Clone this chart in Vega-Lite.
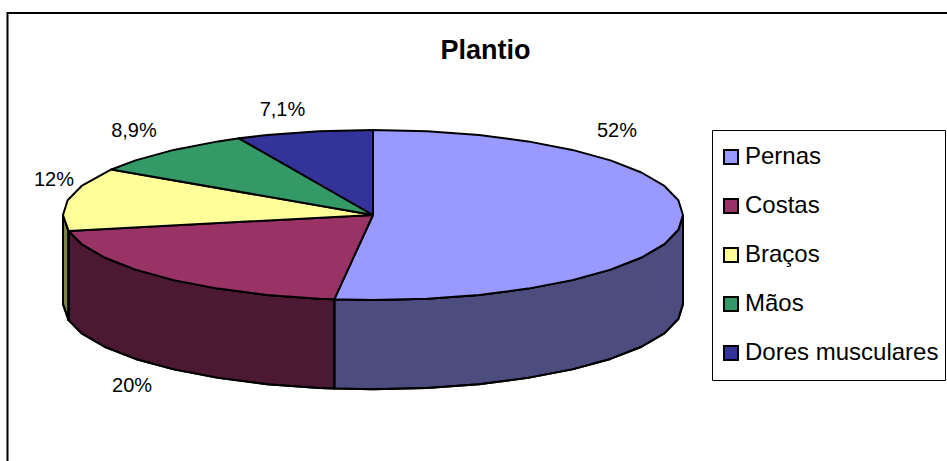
{
"$schema":"https://vega.github.io/schema/vega-lite/v6.json",
"width":947,"height":461,"autosize":{"type":"none"},"padding":0,"background":"white",
"config":{"view":{"stroke":null},"font":"Liberation Sans"},
"title":{"text":"Plantio","font":"Liberation Sans","fontSize":27,"fontWeight":"bold","color":"black","anchor":"middle","frame":"group","offset":-65,"dx":12},
"datasets":{
"topo":[
{"categoria":"Pernas","ordem":0,"x":0,"y":0},{"categoria":"Pernas","ordem":1,"x":0,"y":1},{"categoria":"Pernas","ordem":2,"x":0.174,"y":0.985},{"categoria":"Pernas","ordem":3,"x":0.342,"y":0.94},{"categoria":"Pernas","ordem":4,"x":0.5,"y":0.866},{"categoria":"Pernas","ordem":5,"x":0.643,"y":0.766},{"categoria":"Pernas","ordem":6,"x":0.766,"y":0.643},{"categoria":"Pernas","ordem":7,"x":0.866,"y":0.5},{"categoria":"Pernas","ordem":8,"x":0.94,"y":0.342},{"categoria":"Pernas","ordem":9,"x":0.985,"y":0.174},{"categoria":"Pernas","ordem":10,"x":1,"y":0},{"categoria":"Pernas","ordem":11,"x":0.985,"y":-0.174},{"categoria":"Pernas","ordem":12,"x":0.94,"y":-0.342},{"categoria":"Pernas","ordem":13,"x":0.866,"y":-0.5},{"categoria":"Pernas","ordem":14,"x":0.766,"y":-0.643},{"categoria":"Pernas","ordem":15,"x":0.643,"y":-0.766},{"categoria":"Pernas","ordem":16,"x":0.5,"y":-0.866},{"categoria":"Pernas","ordem":17,"x":0.342,"y":-0.94},{"categoria":"Pernas","ordem":18,"x":0.174,"y":-0.985},{"categoria":"Pernas","ordem":19,"x":0,"y":-1},{"categoria":"Pernas","ordem":20,"x":-0.125,"y":-0.992},{"categoria":"Pernas","ordem":21,"x":0,"y":0},
{"categoria":"Costas","ordem":0,"x":0,"y":0},{"categoria":"Costas","ordem":1,"x":-0.125,"y":-0.992},{"categoria":"Costas","ordem":2,"x":-0.174,"y":-0.985},{"categoria":"Costas","ordem":3,"x":-0.342,"y":-0.94},{"categoria":"Costas","ordem":4,"x":-0.5,"y":-0.866},{"categoria":"Costas","ordem":5,"x":-0.643,"y":-0.766},{"categoria":"Costas","ordem":6,"x":-0.766,"y":-0.643},{"categoria":"Costas","ordem":7,"x":-0.866,"y":-0.5},{"categoria":"Costas","ordem":8,"x":-0.94,"y":-0.342},{"categoria":"Costas","ordem":9,"x":-0.982,"y":-0.187},{"categoria":"Costas","ordem":10,"x":0,"y":0},
{"categoria":"Braços","ordem":0,"x":0,"y":0},{"categoria":"Braços","ordem":1,"x":-0.982,"y":-0.187},{"categoria":"Braços","ordem":2,"x":-1,"y":0},{"categoria":"Braços","ordem":3,"x":-0.985,"y":0.174},{"categoria":"Braços","ordem":4,"x":-0.94,"y":0.342},{"categoria":"Braços","ordem":5,"x":-0.844,"y":0.536},{"categoria":"Braços","ordem":6,"x":0,"y":0},
{"categoria":"Mãos","ordem":0,"x":0,"y":0},{"categoria":"Mãos","ordem":1,"x":-0.844,"y":0.536},{"categoria":"Mãos","ordem":2,"x":-0.766,"y":0.643},{"categoria":"Mãos","ordem":3,"x":-0.643,"y":0.766},{"categoria":"Mãos","ordem":4,"x":-0.5,"y":0.866},{"categoria":"Mãos","ordem":5,"x":-0.432,"y":0.902},{"categoria":"Mãos","ordem":6,"x":0,"y":0},
{"categoria":"Dores musculares","ordem":0,"x":0,"y":0},{"categoria":"Dores musculares","ordem":1,"x":-0.432,"y":0.902},{"categoria":"Dores musculares","ordem":2,"x":-0.342,"y":0.94},{"categoria":"Dores musculares","ordem":3,"x":-0.174,"y":0.985},{"categoria":"Dores musculares","ordem":4,"x":0,"y":1},{"categoria":"Dores musculares","ordem":5,"x":0,"y":0}
],
"lateral":[
{"categoria":"Pernas","ordem":0,"x":1,"y":0},{"categoria":"Pernas","ordem":1,"x":0.985,"y":-0.174},{"categoria":"Pernas","ordem":2,"x":0.94,"y":-0.342},{"categoria":"Pernas","ordem":3,"x":0.866,"y":-0.5},{"categoria":"Pernas","ordem":4,"x":0.766,"y":-0.643},{"categoria":"Pernas","ordem":5,"x":0.643,"y":-0.766},{"categoria":"Pernas","ordem":6,"x":0.5,"y":-0.866},{"categoria":"Pernas","ordem":7,"x":0.342,"y":-0.94},{"categoria":"Pernas","ordem":8,"x":0.174,"y":-0.985},{"categoria":"Pernas","ordem":9,"x":0,"y":-1},{"categoria":"Pernas","ordem":10,"x":-0.125,"y":-0.992},{"categoria":"Pernas","ordem":11,"x":-0.125,"y":-2.042},{"categoria":"Pernas","ordem":12,"x":0,"y":-2.05},{"categoria":"Pernas","ordem":13,"x":0.174,"y":-2.035},{"categoria":"Pernas","ordem":14,"x":0.342,"y":-1.99},{"categoria":"Pernas","ordem":15,"x":0.5,"y":-1.916},{"categoria":"Pernas","ordem":16,"x":0.643,"y":-1.816},{"categoria":"Pernas","ordem":17,"x":0.766,"y":-1.693},{"categoria":"Pernas","ordem":18,"x":0.866,"y":-1.55},{"categoria":"Pernas","ordem":19,"x":0.94,"y":-1.392},{"categoria":"Pernas","ordem":20,"x":0.985,"y":-1.224},{"categoria":"Pernas","ordem":21,"x":1,"y":-1.05},{"categoria":"Pernas","ordem":22,"x":1,"y":0},
{"categoria":"Costas","ordem":0,"x":-0.125,"y":-0.992},{"categoria":"Costas","ordem":1,"x":-0.174,"y":-0.985},{"categoria":"Costas","ordem":2,"x":-0.342,"y":-0.94},{"categoria":"Costas","ordem":3,"x":-0.5,"y":-0.866},{"categoria":"Costas","ordem":4,"x":-0.643,"y":-0.766},{"categoria":"Costas","ordem":5,"x":-0.766,"y":-0.643},{"categoria":"Costas","ordem":6,"x":-0.866,"y":-0.5},{"categoria":"Costas","ordem":7,"x":-0.94,"y":-0.342},{"categoria":"Costas","ordem":8,"x":-0.982,"y":-0.187},{"categoria":"Costas","ordem":9,"x":-0.982,"y":-1.237},{"categoria":"Costas","ordem":10,"x":-0.94,"y":-1.392},{"categoria":"Costas","ordem":11,"x":-0.866,"y":-1.55},{"categoria":"Costas","ordem":12,"x":-0.766,"y":-1.693},{"categoria":"Costas","ordem":13,"x":-0.643,"y":-1.816},{"categoria":"Costas","ordem":14,"x":-0.5,"y":-1.916},{"categoria":"Costas","ordem":15,"x":-0.342,"y":-1.99},{"categoria":"Costas","ordem":16,"x":-0.174,"y":-2.035},{"categoria":"Costas","ordem":17,"x":-0.125,"y":-2.042},{"categoria":"Costas","ordem":18,"x":-0.125,"y":-0.992},
{"categoria":"Braços","ordem":0,"x":-0.982,"y":-0.187},{"categoria":"Braços","ordem":1,"x":-1,"y":0},{"categoria":"Braços","ordem":2,"x":-1,"y":-1.05},{"categoria":"Braços","ordem":3,"x":-0.982,"y":-1.237},{"categoria":"Braços","ordem":4,"x":-0.982,"y":-0.187}
],
"rotulos":[
{"categoria":"Pernas","rotulo":"52%","x":0.787,"y":0.988},
{"categoria":"Costas","rotulo":"20%","x":-0.777,"y":-2.012},
{"categoria":"Braços","rotulo":"12%","x":-1.029,"y":0.412},
{"categoria":"Mãos","rotulo":"8,9%","x":-0.771,"y":0.988},
{"categoria":"Dores musculares","rotulo":"7,1%","x":-0.292,"y":1.23}
],
"moldura":[
{"ordem":0,"x":-1.179,"y":-2.894},{"ordem":1,"x":-1.179,"y":2.376},{"ordem":2,"x":1.8516,"y":2.376}
]
},
"encoding":{
"x":{"field":"x","type":"quantitative","axis":null,"scale":{"domain":[-1.2032,1.8516],"nice":false,"zero":false}},
"y":{"field":"y","type":"quantitative","axis":null,"scale":{"domain":[-2.894,2.5294],"nice":false,"zero":false}}
},
"layer":[
{"data":{"name":"moldura"},"mark":{"type":"line","stroke":"black","strokeWidth":2},"encoding":{"order":{"field":"ordem","type":"quantitative"}}},
{"data":{"name":"lateral"},"mark":{"type":"line","filled":true,"stroke":"black","strokeWidth":2,"strokeJoin":"round"},
"encoding":{"order":{"field":"ordem","type":"quantitative"},
"fill":{"field":"categoria","type":"nominal","scale":{"domain":["Pernas","Costas","Braços","Mãos","Dores musculares"],"range":["#9999FF","#993366","#FFFF99","#339966","#333399"]},
"legend":{"title":null,"orient":"none","legendX":712,"legendY":130,"fillColor":"white","strokeColor":"black","padding":6,"symbolType":"square","symbolSize":196,"symbolStrokeColor":"black","symbolStrokeWidth":2,"symbolOffset":1,"labelFont":"Liberation Sans","labelFontSize":24,"labelColor":"black","labelOffset":2,"labelLimit":300,"rowPadding":7,"clipHeight":42}}}},
{"data":{"name":"lateral"},"mark":{"type":"line","filled":true,"fill":"black","fillOpacity":0.5,"stroke":"black","strokeWidth":2,"strokeJoin":"round"},
"encoding":{"order":{"field":"ordem","type":"quantitative"},"detail":{"field":"categoria","type":"nominal"}}},
{"data":{"name":"topo"},"mark":{"type":"line","filled":true,"stroke":"black","strokeWidth":2,"strokeJoin":"round"},
"encoding":{"order":{"field":"ordem","type":"quantitative"},
"fill":{"field":"categoria","type":"nominal"}}},
{"data":{"name":"rotulos"},"mark":{"type":"text","font":"Liberation Sans","fontSize":20,"color":"black","align":"center","baseline":"middle"},
"encoding":{"text":{"field":"rotulo","type":"nominal"}}}
]
}
